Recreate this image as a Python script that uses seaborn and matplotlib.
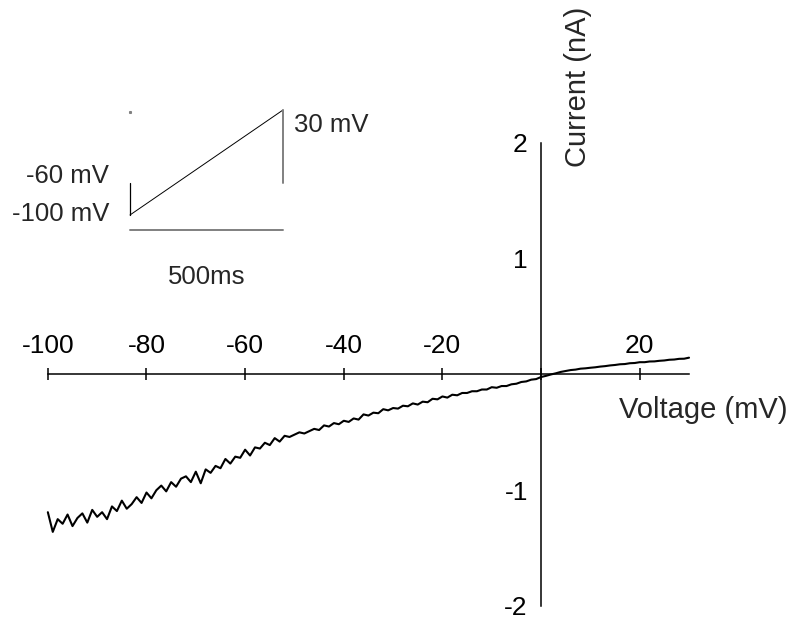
import matplotlib
matplotlib.use("Agg")
import matplotlib.pyplot as plt
import seaborn as sns

# I-V curve from a voltage ramp (-100 to +30 mV)
voltage = list(range(-100, 31))
current = [
    -1.19, -1.36, -1.25, -1.29, -1.21, -1.31, -1.24, -1.20, -1.28, -1.17,   # -100..-91
    -1.23, -1.19, -1.25, -1.14, -1.18, -1.09, -1.16, -1.12, -1.06, -1.11,   # -90..-81
    -1.02, -1.07, -1.00, -0.96, -1.01, -0.93, -0.97, -0.90, -0.88, -0.93,   # -80..-71
    -0.84, -0.94, -0.82, -0.85, -0.79, -0.81, -0.73, -0.77, -0.71, -0.72,   # -70..-61
    -0.65, -0.70, -0.63, -0.64, -0.59, -0.61, -0.55, -0.58, -0.53, -0.54,   # -60..-51
    -0.52, -0.50, -0.51, -0.49, -0.47, -0.48, -0.44, -0.45, -0.42, -0.43,   # -50..-41
    -0.40, -0.41, -0.38, -0.39, -0.345, -0.355, -0.33, -0.335, -0.30, -0.31,  # -40..-31
    -0.29, -0.295, -0.27, -0.275, -0.25, -0.26, -0.235, -0.24, -0.21, -0.215,  # -30..-21
    -0.19, -0.20, -0.175, -0.18, -0.16, -0.16, -0.145, -0.145, -0.13, -0.13,  # -20..-11
    -0.11, -0.115, -0.10, -0.10, -0.085, -0.08, -0.065, -0.06, -0.045, -0.04,  # -10..-1
    -0.022, -0.012, 0.0, 0.01, 0.022, 0.03, 0.038, 0.042, 0.05, 0.053,       # 0..9
    0.058, 0.062, 0.068, 0.072, 0.078, 0.082, 0.088, 0.09, 0.097, 0.099,     # 10..19
    0.106, 0.106, 0.112, 0.113, 0.118, 0.121, 0.127, 0.129, 0.135, 0.136,    # 20..29
    0.145,                                                                   # 30
]

xticks = [-100, -80, -60, -40, -20, 0, 20]
xticklabels = ["-100", "-80", "-60", "-40", "-20", "", "20"]
yticks = [-2, -1, 1, 2]
yticklabels = ["-2", "-1", "1", "2"]

# protocol sketch (time in ms, voltage in mV)
step_t = [0, 0]
step_v = [-60, -100]
ramp_t = [0, 500]
ramp_v = [-100, 30]
back_t = [500, 500]
back_v = [30, -60]
bar_t = [0, 500]
bar_v = [-118.6, -118.6]

sns.set_style("white")
plt.rcParams['font.family'] = ['Liberation Sans', 'DejaVu Sans']
fs_tick = 19
fs_lab = 21
fs_ins = 18.5

fig = plt.figure(figsize=(8, 6.29), dpi=100)
ax = fig.add_axes([0, 0, 1, 1])
ax.set_facecolor("white")

sns.lineplot(x=voltage, y=current, color="black", linewidth=1.5, ax=ax, estimator=None, sort=False)

ax.set_xlim(-109.7, 52.5)
ax.set_ylim(-2.199, 3.235)

ax.spines['right'].set_visible(False)
ax.spines['bottom'].set_visible(False)
ax.spines['top'].set_position(('data', 0))
ax.spines['top'].set_bounds(-100, 30)
ax.spines['left'].set_position(('data', 0))
ax.spines['left'].set_bounds(-2, 2)
for s in ['top', 'left']:
    ax.spines[s].set_linewidth(1.1)
    ax.spines[s].set_color("black")

ax.xaxis.set_ticks_position('top')
ax.set_xticks(xticks)
ax.set_xticklabels(xticklabels)
ax.set_yticks(yticks)
ax.set_yticklabels(yticklabels)
ax.tick_params(axis='x', direction='inout', length=9, width=1.1, pad=7, labelsize=fs_tick, colors='black')
ax.tick_params(axis='y', direction='inout', length=9, width=1.1, pad=5, labelsize=fs_tick, colors='black')
ax.set_xlabel("")
ax.set_ylabel("")

fig.text(578 / 800, 1 - 87 / 629, "Current (nA)", rotation=90, ha='center', va='center', fontsize=fs_lab)
fig.text(703 / 800, 1 - 410 / 629, "Voltage (mV)", ha='center', va='center', fontsize=fs_lab)

# inset: voltage protocol
ins = fig.add_axes([130 / 800, 1 - 230 / 629, 153 / 800, 120 / 629])
ins.set_xlim(0, 500)
ins.set_ylim(-118.6, 30)
ins.axis('off')
ins.plot(step_t, step_v, color="black", linewidth=0.9, clip_on=False)
ins.plot(ramp_t, ramp_v, color="black", linewidth=0.7, clip_on=False)
ins.plot(back_t, back_v, color="#808080", linewidth=1.4, clip_on=False)
ins.plot(bar_t, bar_v, color="#808080", linewidth=1.4, clip_on=False)
ins.plot([0], [28], marker='s', markersize=1.2, color="#808080", clip_on=False)

fig.text(294 / 800, 1 - 125 / 629, "30 mV", ha='left', va='center', fontsize=fs_ins)
fig.text(109 / 800, 1 - 176 / 629, "-60 mV", ha='right', va='center', fontsize=fs_ins)
fig.text(109 / 800, 1 - 214 / 629, "-100 mV", ha='right', va='center', fontsize=fs_ins)
fig.text(207 / 800, 1 - 277 / 629, "500ms", ha='center', va='center', fontsize=fs_ins)

fig.savefig("out.png", dpi=100, facecolor="white")
